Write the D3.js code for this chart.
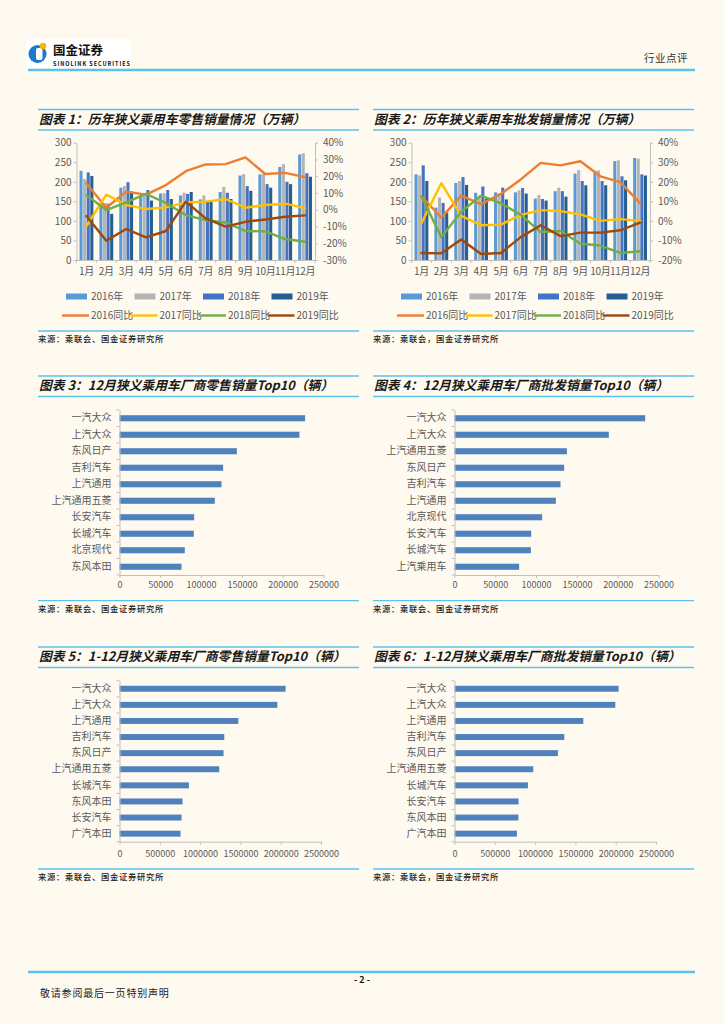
<!DOCTYPE html>
<html>
<head>
<meta charset="utf-8">
<script src="https://cdn.jsdelivr.net/npm/d3@7"></script>
<style>
  body { margin: 0; background: #fffaf0; }
  svg { display: block; }
  text { font-family: "Noto Sans CJK SC", "Noto Sans", sans-serif; }
</style>
</head>
<body>
<svg id="page" width="724" height="1024"></svg>
<script>
// ---- data ----
var months = ['1月', '2月', '3月', '4月', '5月', '6月', '7月', '8月', '9月', '10月', '11月', '12月']
var years = ['2016年', '2017年', '2018年', '2019年']
var yoyNames = ['2016同比', '2017同比', '2018同比', '2019同比']

// 零售 (万辆)
var retail2016 = [228, 145, 185, 164, 170, 165, 155, 174, 216, 219, 238, 270]
var retail2017 = [207, 146, 189, 165, 171, 172, 165, 187, 220, 220, 245, 273]
var retail2018 = [224, 144, 199, 179, 179, 169, 151, 172, 189, 194, 200, 222]
var retail2019 = [215, 118, 175, 152, 156, 174, 149, 156, 177, 185, 194, 213]
// 零售同比 (%)
var retailYoy2016 = [15.7, 1.2, 10.7, 9, 14.7, 23, 27, 27.2, 31.2, 21.3, 22, 19.5]
var retailYoy2017 = [-9.7, 9, 2.8, 0.4, 1.4, 4.4, 4.8, 6.4, 1.2, 2.8, 3.6, 1]
var retailYoy2018 = [8.7, -0.2, 4.4, 9.5, 4, -3.2, -6.2, -7.6, -12.7, -12.9, -17.5, -19.1]
var retailYoy2019 = [-3.8, -18.5, -11.5, -16.5, -12.7, 4.8, -5.2, -10.1, -7.2, -5.8, -4.2, -3.4]

// 批发 (万辆)
var whole2016 = [219, 134, 197, 172, 173, 173, 157, 176, 221, 228, 253, 261]
var whole2017 = [216, 160, 202, 165, 171, 178, 166, 185, 230, 229, 255, 259]
var whole2018 = [242, 146, 212, 188, 185, 184, 156, 176, 202, 202, 214, 219]
var whole2019 = [202, 121, 192, 156, 155, 170, 152, 162, 191, 191, 204, 216]
// 批发同比 (%)
var wholeYoy2016 = [12.6, 1.7, 12.9, 8.6, 13.8, 21.2, 29.7, 28.4, 30.5, 22.8, 19.8, 9.1]
var wholeYoy2017 = [-1.2, 19.3, 2.6, -2.2, -1.9, 3.1, 5.5, 5, 3.3, 0, 0.9, 0]
var wholeYoy2018 = [12.6, -8.3, 4.7, 12.9, 9, 3.1, -5.7, -5.2, -11.7, -12.6, -16.4, -15.5]
var wholeYoy2019 = [-16.4, -16.6, -9.5, -16.9, -16.4, -8.3, -2.2, -7.8, -6, -6, -4.8, -0.9]

// 12月 零售 Top10 (辆)
var decRetailMakers = ['一汽大众', '上汽大众', '东风日产', '吉利汽车', '上汽通用', '上汽通用五菱', '长安汽车', '长城汽车', '北京现代', '东风本田']
var decRetailValues = [227500, 220500, 143800, 127000, 125000, 116800, 91500, 91100, 80000, 76000]
// 12月 批发 Top10 (辆)
var decWholeMakers = ['一汽大众', '上汽大众', '上汽通用五菱', '东风日产', '吉利汽车', '上汽通用', '北京现代', '长安汽车', '长城汽车', '上汽乘用车']
var decWholeValues = [233700, 189100, 137700, 134400, 129900, 124200, 107400, 94000, 93600, 79200]
// 1-12月 零售 Top10 (辆)
var yearRetailMakers = ['一汽大众', '上汽大众', '上汽通用', '吉利汽车', '东风日产', '上汽通用五菱', '长城汽车', '东风本田', '长安汽车', '广汽本田']
var yearRetailValues = [2061000, 1958000, 1474000, 1300000, 1291000, 1238000, 861000, 782000, 770000, 757000]
// 1-12月 批发 Top10 (辆)
var yearWholeMakers = ['一汽大众', '上汽大众', '上汽通用', '吉利汽车', '东风日产', '上汽通用五菱', '长城汽车', '长安汽车', '东风本田', '广汽本田']
var yearWholeValues = [2036000, 1995000, 1598000, 1362000, 1283000, 977000, 911000, 795000, 793000, 774000]

// ---- styles ----
var barColors = ['#5b9bd5', '#b4b4b4', '#4472c4', '#255e91']
var lineColors = ['#ed7d31', '#ffc000', '#70ad47', '#9e480e']
var blue = '#5bc2ec', axisGray = '#bfbfbf', labelGray = '#595959'
var numFont = 'Lato, "Liberation Sans", sans-serif'

var svg = d3.select('#page')
svg.append('rect').attr('width', 724).attr('height', 1024).attr('fill', '#fffaf0')

// header
var logo = svg.append('g')
logo.append('rect').attr('x', 26).attr('y', 39).attr('width', 105).attr('height', 29).attr('fill', '#fff')
logo.append('circle').attr('cx', 37.5).attr('cy', 54).attr('r', 9).attr('fill', '#1f78c8')
logo.append('rect').attr('x', 36).attr('y', 48).attr('width', 6.5).attr('height', 12).attr('rx', 2).attr('fill', '#fff')
logo.append('circle').attr('cx', 43).attr('cy', 46).attr('r', 3.3).attr('fill', '#f5b700')
logo.append('text').attr('x', 53).attr('y', 54.5).attr('font-size', 12.5).attr('font-weight', 700)
    .attr('fill', '#111').text('国金证券')
logo.append('text').attr('x', 53).attr('y', 65.5).attr('font-size', 5.5).attr('font-weight', 700)
    .attr('font-family', '"Liberation Sans", sans-serif').attr('textLength', 77).attr('fill', '#111')
    .text('SINOLINK SECURITIES')
svg.append('text').attr('x', 644).attr('y', 62).attr('font-size', 10.5).attr('fill', '#333')
    .attr('letter-spacing', 0.5).text('行业点评')
svg.append('line').attr('x1', 28).attr('x2', 695).attr('y1', 70).attr('y2', 70)
    .attr('stroke', blue).attr('stroke-width', 2.5)

function titleBlock(bx0, bx1, top, title) {
    svg.append('line').attr('x1', bx0).attr('x2', bx1).attr('y1', top).attr('y2', top)
        .attr('stroke', blue).attr('stroke-width', 1.3)
    svg.append('line').attr('x1', bx0).attr('x2', bx1).attr('y1', top + 20.5).attr('y2', top + 20.5)
        .attr('stroke', blue).attr('stroke-width', 1.3)
    svg.append('text').attr('x', bx0 + 1).attr('y', top + 9.5).attr('dy', '0.36em')
        .attr('font-size', 12.8).attr('font-weight', 700).attr('font-style', 'italic')
        .attr('fill', '#1a1a1a').text(title)
}

function sourceBlock(bx0, bx1, y, txt) {
    svg.append('line').attr('x1', bx0).attr('x2', bx1).attr('y1', y).attr('y2', y)
        .attr('stroke', blue).attr('stroke-width', 1.3)
    svg.append('text').attr('x', bx0).attr('y', y + 8).attr('dy', '0.36em')
        .attr('font-size', 8.3).attr('font-weight', 500).attr('letter-spacing', 0.7)
        .attr('fill', '#222').text(txt)
}

function styleAxis(g, size, family) {
    g.select('.domain').attr('stroke', axisGray)
    g.selectAll('.tick line').attr('stroke', axisGray)
    g.selectAll('.tick text').attr('fill', labelGray).attr('font-size', size)
        .attr('font-family', family)
}

function comboChart(o) {
    var bx0 = o.bx0, px0 = bx0 + 38.5, px1 = bx0 + 277, py0 = 142.7, py1 = 260
    titleBlock(bx0, bx0 + 321, o.top, o.title)

    var x0 = d3.scaleBand().domain(months).range([px0, px1]).paddingInner(0.25).paddingOuter(0.125)
    var x1 = d3.scaleBand().domain(years).range([0, x0.bandwidth()]).padding(0.15)
    var y = d3.scaleLinear().domain([0, 300]).range([py1, py0])
    var y2 = d3.scaleLinear().domain(o.yoyDomain).range([py1, py0])

    // bars
    var rows = months.map(function (m, i) {
        return { month: m, vals: o.bars.map(function (s, k) { return { year: years[k], v: s[i], k: k } }) }
    })
    svg.append('g').selectAll('g').data(rows).enter().append('g')
        .attr('transform', function (d) { return 'translate(' + x0(d.month) + ',0)' })
        .selectAll('rect').data(function (d) { return d.vals }).enter().append('rect')
        .attr('x', function (d) { return x1(d.year) })
        .attr('width', x1.bandwidth())
        .attr('y', function (d) { return y(d.v) })
        .attr('height', function (d) { return y(0) - y(d.v) })
        .attr('fill', function (d) { return barColors[d.k] })

    // axes
    var gl = svg.append('g').attr('transform', 'translate(' + px0 + ',0)')
        .call(d3.axisLeft(y).tickValues(d3.range(0, 301, 50)).tickSize(3).tickSizeOuter(0).tickPadding(2))
    styleAxis(gl, 10, numFont)
    var yTicks = d3.range(o.yoyDomain[0], o.yoyDomain[1] + 1, 10)
    var gr = svg.append('g').attr('transform', 'translate(' + px1 + ',0)')
        .call(d3.axisRight(y2).tickValues(yTicks).tickSize(3).tickSizeOuter(0).tickPadding(5)
            .tickFormat(function (d) { return d + '%' }))
    styleAxis(gr, 10, numFont)
    var gb = svg.append('g').attr('transform', 'translate(0,' + py1 + ')')
        .call(d3.axisBottom(x0).tickSize(0).tickPadding(8))
    styleAxis(gb, 10, numFont)
    gb.selectAll('.tick text').attr('letter-spacing', -0.3)
    gb.selectAll('.sep').data(d3.range(months.length + 1)).enter().append('line')
        .attr('x1', function (i) { return px0 + i * x0.step() })
        .attr('x2', function (i) { return px0 + i * x0.step() })
        .attr('y1', 0).attr('y2', 3).attr('stroke', axisGray)

    // yoy lines
    var line = d3.line()
        .x(function (d, i) { return x0(months[i]) + x0.bandwidth() / 2 })
        .y(function (d) { return y2(d) })
    o.yoy.forEach(function (s, k) {
        svg.append('path').datum(s).attr('d', line).attr('fill', 'none')
            .attr('stroke', lineColors[k]).attr('stroke-width', 2.4)
            .attr('stroke-linejoin', 'round').attr('stroke-linecap', 'round')
    })

    // legend
    var lg = svg.append('g').attr('font-size', 10).attr('fill', labelGray)
    years.forEach(function (name, k) {
        var tx = bx0 + 53 + 68.5 * k
        lg.append('rect').attr('x', tx - 25).attr('y', 293.5).attr('width', 21).attr('height', 6)
            .attr('fill', barColors[k])
        lg.append('text').attr('x', tx).attr('y', 296.5).attr('dy', '0.36em').text(name)
    })
    yoyNames.forEach(function (name, k) {
        var tx = bx0 + 53 + 68.5 * k
        lg.append('line').attr('x1', tx - 29).attr('x2', tx - 2).attr('y1', 315.5).attr('y2', 315.5)
            .attr('stroke', lineColors[k]).attr('stroke-width', 2.4)
        lg.append('text').attr('x', tx).attr('y', 315.5).attr('dy', '0.36em').text(name)
    })

    sourceBlock(bx0, bx0 + 321, 331, o.source)
}

function barChart(o) {
    var bx0 = o.bx0, ax0 = bx0 + 81.5, ax1 = ax0 + o.axisW
    titleBlock(bx0, bx0 + 321, o.top, o.title)

    var x = d3.scaleLinear().domain([0, o.max]).range([ax0, ax1])
    var y = d3.scaleBand().domain(o.makers).range([o.y0, o.y1]).paddingInner(0.63).paddingOuter(0.315)

    svg.append('g').selectAll('rect').data(o.values).enter().append('rect')
        .attr('x', ax0)
        .attr('y', function (d, i) { return y(o.makers[i]) })
        .attr('height', y.bandwidth())
        .attr('width', function (d) { return x(d) - ax0 })
        .attr('fill', '#4f81bd')

    var gl = svg.append('g').attr('transform', 'translate(' + ax0 + ',0)')
        .call(d3.axisLeft(y).tickSize(0).tickPadding(8))
    styleAxis(gl, 10, '"Noto Sans CJK SC", sans-serif')
    gl.selectAll('.sep').data(d3.range(o.makers.length + 1)).enter().append('line')
        .attr('x1', -3).attr('x2', 0)
        .attr('y1', function (i) { return o.y0 + i * y.step() })
        .attr('y2', function (i) { return o.y0 + i * y.step() })
        .attr('stroke', axisGray)

    var gb = svg.append('g').attr('transform', 'translate(0,' + o.y1 + ')')
        .call(d3.axisBottom(x).tickValues(d3.range(0, o.max + 1, o.max / 5)).tickSize(3)
            .tickSizeOuter(0).tickPadding(o.pad).tickFormat(d3.format('d')))
    styleAxis(gb, 9, numFont)

    sourceBlock(bx0, bx0 + 321, o.srcY, o.source)
}

comboChart({
    bx0: 38, top: 109.5, title: '图表 1：历年狭义乘用车零售销量情况（万辆）',
    bars: [retail2016, retail2017, retail2018, retail2019],
    yoy: [retailYoy2016, retailYoy2017, retailYoy2018, retailYoy2019],
    yoyDomain: [-30, 40], source: '来源：乘联会、国金证券研究所'
})
comboChart({
    bx0: 373, top: 109.5, title: '图表 2：历年狭义乘用车批发销量情况（万辆）',
    bars: [whole2016, whole2017, whole2018, whole2019],
    yoy: [wholeYoy2016, wholeYoy2017, wholeYoy2018, wholeYoy2019],
    yoyDomain: [-20, 40], source: '来源：乘联会，国金证券研究所'
})

barChart({
    bx0: 38, top: 376, title: '图表 3：12月狭义乘用车厂商零售销量Top10（辆）',
    makers: decRetailMakers, values: decRetailValues, max: 250000, axisW: 204,
    y0: 410, y1: 575, pad: 4, srcY: 600.7, source: '来源：乘联会、国金证券研究所'
})
barChart({
    bx0: 373, top: 376, title: '图表 4：12月狭义乘用车厂商批发销量Top10（辆）',
    makers: decWholeMakers, values: decWholeValues, max: 250000, axisW: 204,
    y0: 410, y1: 575, pad: 4, srcY: 600.7, source: '来源：乘联会、国金证券研究所'
})
barChart({
    bx0: 38, top: 647, title: '图表 5：1-12月狭义乘用车厂商零售销量Top10（辆）',
    makers: yearRetailMakers, values: yearRetailValues, max: 2500000, axisW: 201.5,
    y0: 680.7, y1: 841.7, pad: 6, srcY: 869, source: '来源：乘联会、国金证券研究所'
})
barChart({
    bx0: 373, top: 647, title: '图表 6：1-12月狭义乘用车厂商批发销量Top10（辆）',
    makers: yearWholeMakers, values: yearWholeValues, max: 2500000, axisW: 201.5,
    y0: 680.7, y1: 841.7, pad: 6, srcY: 869, source: '来源：乘联会，国金证券研究所'
})

// footer
svg.append('line').attr('x1', 28).attr('x2', 695).attr('y1', 972).attr('y2', 972)
    .attr('stroke', blue).attr('stroke-width', 2.5)
svg.append('text').attr('x', 362).attr('y', 980).attr('dy', '0.36em').attr('text-anchor', 'middle')
    .attr('font-size', 9).attr('font-weight', 700).attr('fill', '#111').text('- 2 -')
svg.append('text').attr('x', 40).attr('y', 993).attr('dy', '0.36em')
    .attr('font-size', 10).attr('letter-spacing', 0.8).attr('fill', '#222').text('敬请参阅最后一页特别声明')
</script>
</body>
</html>
